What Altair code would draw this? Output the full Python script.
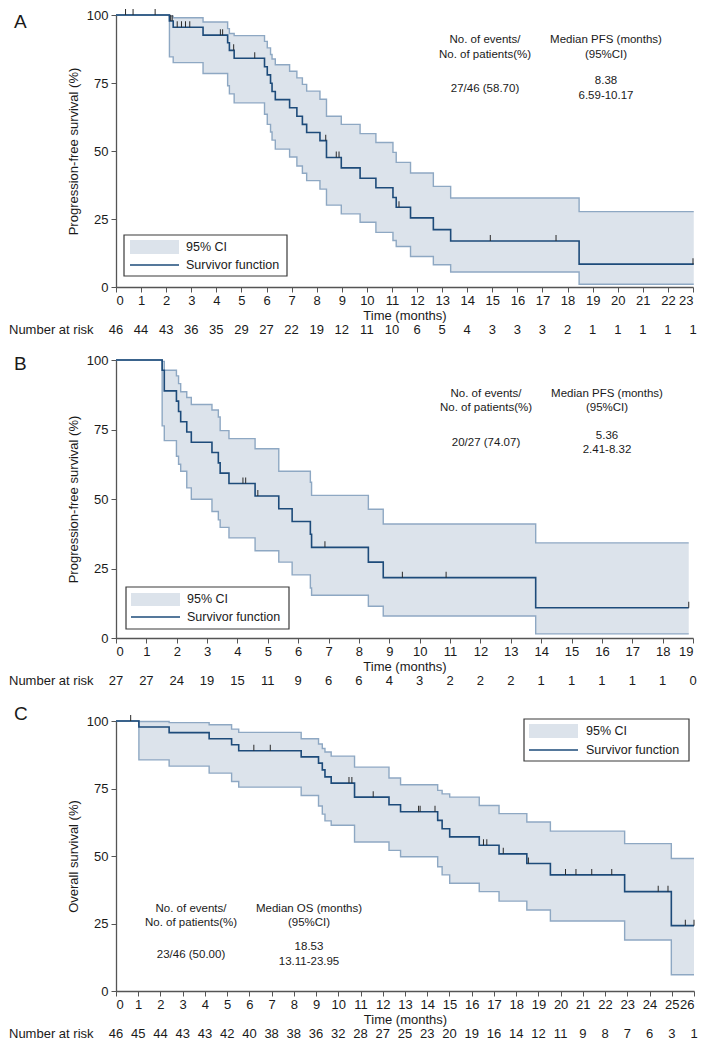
import altair as alt
import pandas as pd

FONT = "Liberation Sans"
BAND_FILL = "#dce3eb"
CI_STROKE = "#8ea8c3"
SURV_COLOR = "#1d4b7a"
TEXT_COLOR = "#1a1a1a"

# ---------------- Panel A (PFS, n=46) ----------------
a_time = [0, 2.13, 2.28, 3.47, 4.45, 4.52, 4.71, 5.92, 6.03, 6.16, 6.22, 6.35, 6.92, 7.21,
          7.43, 7.60, 8.13, 8.39, 8.98, 9.73, 10.36, 11.04, 11.17, 11.74, 12.65, 13.34, 18.46, 23.03]
a_surv = [100, 97.8, 95.5, 92.6, 89.8, 87.0, 84.1, 81.0, 78.0, 74.9, 71.9, 68.9, 65.9, 62.8,
          59.8, 56.8, 53.8, 47.6, 43.8, 40.0, 36.5, 32.9, 29.3, 25.4, 21.1, 16.9, 8.4, 8.4]
a_lower = [100, 84.6, 82.5, 78.5, 74.0, 71.0, 67.7, 63.5, 59.8, 57.0, 54.0, 50.7, 47.8, 44.5,
           41.8, 39.1, 36.0, 30.1, 26.9, 23.8, 20.1, 17.1, 14.9, 11.2, 8.2, 5.5, 1.0, 1.0]
a_upper = [100, 99.6, 99.0, 97.4, 95.0, 93.2, 92.4, 90.3, 87.9, 85.5, 83.8, 81.7, 79.3, 76.9,
           74.5, 72.0, 69.0, 62.8, 59.8, 56.4, 53.1, 49.5, 45.8, 41.9, 37.0, 32.7, 27.7, 27.7]
a_censor = [0.38, 0.68, 1.56, 2.18, 2.24, 2.44, 2.61, 2.77, 2.94, 4.16, 4.25, 4.69, 5.53,
            8.36, 8.78, 8.89, 11.28, 14.92, 17.54, 23.0]
a_risk = [46, 44, 43, 36, 35, 29, 27, 22, 19, 12, 11, 10, 6, 5, 4, 3, 3, 3, 2, 1, 1, 1, 1, 1]

# ---------------- Panel B (PFS, n=27) ----------------
b_time = [0, 1.52, 1.59, 1.99, 2.06, 2.13, 2.33, 2.48, 3.16, 3.37, 3.43, 3.72, 4.58, 5.36,
          5.80, 6.40, 6.44, 8.31, 8.80, 13.82, 18.86]
b_surv = [100, 96.3, 88.9, 85.2, 81.5, 77.8, 74.1, 70.4, 66.7, 63.0, 59.3, 55.6, 51.1, 46.5,
          41.9, 37.3, 32.6, 27.3, 21.7, 10.9, 10.9]
b_lower = [100, 76.3, 71.0, 65.4, 62.5, 60.0, 54.0, 49.9, 45.5, 42.5, 39.8, 36.0, 31.4, 27.3,
           22.7, 18.0, 15.4, 11.4, 7.9, 1.5, 1.5]
b_upper = [100, 99.5, 96.3, 94.3, 91.5, 88.6, 86.5, 84.0, 82.0, 79.5, 74.6, 71.7, 68.1, 60.0,
           60.0, 56.0, 51.3, 46.3, 41.0, 34.2, 34.2]
b_censor = [4.18, 4.27, 4.67, 6.88, 9.43, 10.87, 18.86]
b_risk = [27, 27, 24, 19, 15, 11, 9, 6, 6, 4, 3, 2, 2, 2, 1, 1, 1, 1, 1, 0]

# ---------------- Panel C (OS, n=46) ----------------
c_time = [0, 1.03, 2.39, 4.19, 5.20, 5.52, 8.33, 9.11, 9.28, 9.40, 9.68, 10.73, 12.28, 12.80,
          14.47, 14.67, 15.01, 16.34, 17.23, 18.48, 19.54, 22.88, 24.98, 26.0]
c_surv = [100, 97.8, 95.7, 93.4, 91.2, 89.0, 86.7, 84.4, 81.9, 79.3, 77.0, 71.8, 69.0, 66.4,
          63.2, 60.1, 57.1, 54.0, 50.8, 47.2, 43.0, 36.8, 24.2, 24.2]
c_lower = [100, 85.6, 83.3, 80.7, 77.6, 75.5, 72.4, 68.5, 65.5, 63.0, 61.4, 55.2, 52.1, 49.7,
           46.0, 43.0, 39.9, 36.8, 33.3, 30.0, 25.9, 18.9, 6.0, 6.0]
c_upper = [100, 99.8, 99.4, 98.6, 97.0, 95.8, 93.4, 91.5, 89.8, 88.5, 87.0, 82.9, 78.9, 76.4,
           74.3, 73.0, 71.8, 68.7, 65.7, 62.6, 59.2, 54.6, 49.1, 49.1]
c_censor = [0.66, 6.2, 6.94, 10.48, 10.61, 11.57, 13.61, 13.68, 14.35, 16.53, 16.68, 17.42,
            18.55, 20.22, 20.69, 21.4, 22.3, 24.39, 24.83, 25.61, 26.0]
c_risk = [46, 45, 44, 43, 43, 42, 40, 38, 38, 36, 32, 28, 27, 25, 23, 20, 19, 16, 14, 12, 11,
          9, 8, 7, 6, 3, 1]

ONE = pd.DataFrame({"k": [0]})


def level_at(times, vals, t):
    k = 0
    for i, tt in enumerate(times):
        if tt <= t + 1e-9:
            k = i
    return vals[k]


def txt(s, x, y, size=11.5, align="center", baseline="middle"):
    return alt.Chart(ONE).mark_text(
        font=FONT, fontSize=size, align=align, baseline=baseline, color=TEXT_COLOR
    ).encode(x=alt.value(x), y=alt.value(y), text=alt.value(s))


def legend(bx0, bx1, by0, by1, sx0, sx1, sy0, sy1, ly, tx, ty1, ty2):
    box = alt.Chart(ONE).mark_rect(fill="white", stroke="#3a3a3a", strokeWidth=1.2).encode(
        x=alt.value(bx0), x2=alt.value(bx1), y=alt.value(by0), y2=alt.value(by1))
    sw = alt.Chart(ONE).mark_rect(fill=BAND_FILL).encode(
        x=alt.value(sx0), x2=alt.value(sx1), y=alt.value(sy0), y2=alt.value(sy1))
    ln = alt.Chart(ONE).mark_rule(color=SURV_COLOR, strokeWidth=1.5).encode(
        x=alt.value(sx0), x2=alt.value(sx1), y=alt.value(ly))
    return [box, sw, ln,
            txt("95% CI", tx, ty1, size=12.5, align="left"),
            txt("Survivor function", tx, ty2, size=12.5, align="left")]


def panel(letter, letter_y, times, surv, lower, upper, cens, risk, xmax, ytitle, w, h,
          annots, leg):
    curve = pd.DataFrame({"t": times, "s": surv, "lo": lower, "up": upper})
    cdf = pd.DataFrame({"t": cens, "s": [level_at(times, surv, c) for c in cens]})
    rdf = pd.DataFrame({"t": list(range(len(risk))), "n": [str(v) for v in risk]})

    xs = alt.Scale(domain=[0, xmax], nice=False, zero=False)
    ys = alt.Scale(domain=[0, 100], nice=False)
    xax = alt.Axis(values=list(range(xmax + 1)), title="Time (months)", labelOverlap=False)
    yax = alt.Axis(values=[0, 25, 50, 75, 100], title=ytitle, labelOverlap=False)
    X = alt.X("t:Q", scale=xs, axis=xax)

    def Y(f):
        return alt.Y(f, scale=ys, axis=yax)

    base = alt.Chart(curve)
    band = base.mark_area(interpolate="step-after", color=BAND_FILL, opacity=1).encode(
        x=X, y=Y("lo:Q"), y2="up:Q")
    up_l = base.mark_line(interpolate="step-after", color=CI_STROKE, strokeWidth=1.4).encode(
        x=X, y=Y("up:Q"))
    lo_l = base.mark_line(interpolate="step-after", color=CI_STROKE, strokeWidth=1.4).encode(
        x=X, y=Y("lo:Q"))
    s_l = base.mark_line(interpolate="step-after", color=SURV_COLOR, strokeWidth=1.6).encode(
        x=X, y=Y("s:Q"))
    ticks = alt.Chart(cdf).mark_tick(orient="vertical", size=6, thickness=1, yOffset=-3,
                                     color="#2a2a2a", opacity=1).encode(x=X, y=Y("s:Q"))
    risk_l = alt.Chart(rdf).mark_text(font=FONT, fontSize=13, baseline="middle",
                                      color=TEXT_COLOR).encode(
        x=X, y=alt.value(h + 43), text="n:N")
    risk_lbl = txt("Number at risk", -107, h + 43, size=13, align="left")
    letter_t = txt(letter, -102, letter_y, size=19, align="left")

    layers = [band, up_l, lo_l, s_l, ticks, risk_l, risk_lbl, letter_t] + annots + leg
    return alt.layer(*layers).properties(width=w, height=h)


hA, hB, hC = 272, 278, 270
wA, wB, wC = 577, 577, 578

annA = [txt("No. of events/", 369, 25), txt("No. of patients(%)", 369, 40),
        txt("27/46 (58.70)", 369, 74),
        txt("Median PFS (months)", 490, 25), txt("(95%CI)", 490, 40),
        txt("8.38", 490, 66), txt("6.59-10.17", 490, 81)]
legA = legend(8, 171, hA - 52, hA - 11, 14, 63, hA - 47, hA - 33, hA - 22, 70, hA - 40, hA - 22)

annB = [txt("No. of events/", 370, 34), txt("No. of patients(%)", 370, 48),
        txt("20/27 (74.07)", 370, 83),
        txt("Median PFS (months)", 491, 34), txt("(95%CI)", 491, 48),
        txt("5.36", 491, 76), txt("2.41-8.32", 491, 90)]
legB = legend(10, 173, hB - 51, hB - 9, 15, 64, hB - 45, hB - 32, hB - 21, 71, hB - 39, hB - 21)

annC = [txt("No. of events/", 75, hC - 82), txt("No. of patients(%)", 75, hC - 68),
        txt("23/46 (50.00)", 75, hC - 36),
        txt("Median OS (months)", 193, hC - 82), txt("(95%CI)", 193, hC - 68),
        txt("18.53", 193, hC - 44), txt("13.11-23.95", 193, hC - 29)]
legC = legend(408, 573, -2, 40, 413, 462, 3, 17, 29, 470, 10, 29)

pA = panel("A", 7, a_time, a_surv, a_lower, a_upper, a_censor, a_risk, 23,
           "Progression-free survival (%)", wA, hA, annA, legA)
pB = panel("B", 4, b_time, b_surv, b_lower, b_upper, b_censor, b_risk, 19,
           "Progression-free survival (%)", wB, hB, annB, legB)
pC = panel("C", -7, c_time, c_surv, c_lower, c_upper, c_censor, c_risk, 26,
           "Overall survival (%)", wC, hC, annC, legC)

chart = alt.vconcat(pA, pB, pC, spacing=15, padding=0).configure_axis(
    labelFont=FONT, titleFont=FONT, labelFontSize=13, titleFontSize=13,
    titleFontWeight="normal", labelColor=TEXT_COLOR, titleColor=TEXT_COLOR,
    domainColor="#555555", tickColor="#555555", domainWidth=1.3, tickWidth=1,
    tickSize=5, grid=False, labelPadding=2
).configure_axisY(titlePadding=6, labelPadding=3).configure_axisX(
    titlePadding=2).configure_view(stroke="transparent")

chart.save("out.html", embed_options={"renderer": "svg", "actions": False})
